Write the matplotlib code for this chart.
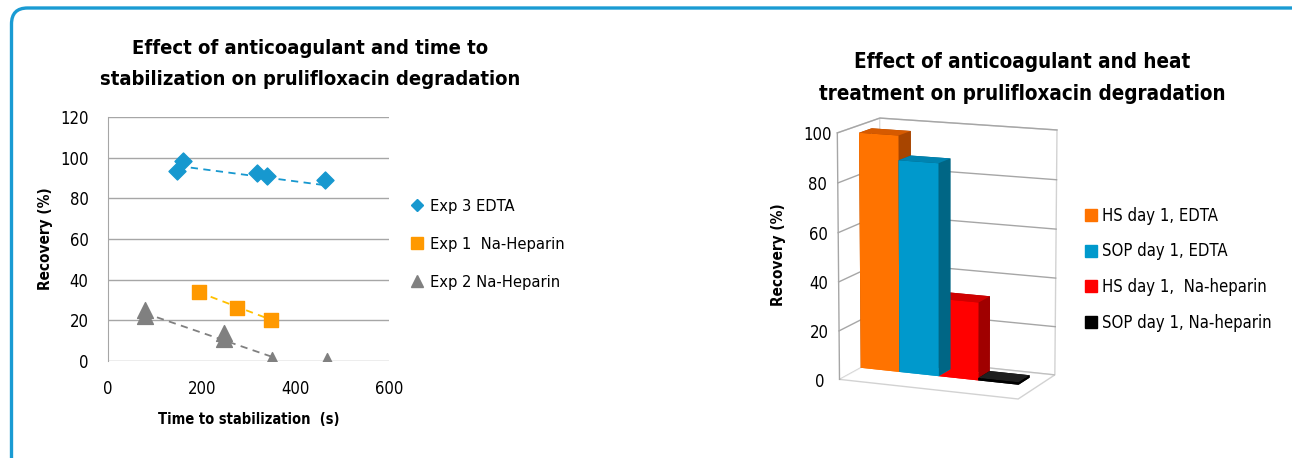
import matplotlib
matplotlib.use("Agg")
import matplotlib.pyplot as plt
from matplotlib.patches import FancyBboxPatch
from matplotlib.lines import Line2D
from matplotlib.patches import Patch

plt.rcParams['font.family'] = ['DejaVu Sans']
plt.rcParams['font.stretch'] = 'condensed'

# scatter data: time to stabilization (s) vs recovery (%)
exp3_x = [148, 161, 318, 339, 464]
exp3_y = [93.3, 98.2, 92.5, 91.2, 89.2]
exp1_x = [194, 276, 348]
exp1_y = [34.0, 25.9, 20.1]
exp2_x = [79, 79, 248, 248, 351, 468]
exp2_y = [25.0, 22.0, 13.6, 10.6, 0.6, 0.0]

# trend line end points
trend3_x = [150, 465]
trend3_y = [95.9, 86.4]
trend1_x = [194, 348]
trend1_y = [33.8, 20.3]
trend2_x = [79, 351]
trend2_y = [23.5, 2.0]

# bar data
bar_labels = ["HS day 1, EDTA", "SOP day 1, EDTA", "HS day 1,  Na-heparin", "SOP day 1, Na-heparin"]
bar_values = [97, 87, 32, 1]
bar_front = ["#FF7300", "#0099CC", "#FF0000", "#000000"]
bar_top = ["#D65A00", "#0083B0", "#D00000", "#202020"]
bar_side = ["#A84500", "#006685", "#A00000", "#000000"]
z_ticks = [0, 20, 40, 60, 80, 100]

blue = "#1798CF"
orange = "#FF9900"
gray = "#808080"
grid_c = "#A6A6A6"

fig = plt.figure(figsize=(12.92, 4.58), dpi=100)

# rounded frame around everything
frame = FancyBboxPatch((0.115, -0.5), 13.3, 5.0, boxstyle="round,pad=0,rounding_size=0.16",
                       transform=fig.dpi_scale_trans, facecolor="none",
                       edgecolor="#1A9BD3", linewidth=2.4, clip_on=False)
fig.patches.append(frame)

# ---- left: scatter ----
ax = fig.add_axes([108 / 1292, 1 - 361 / 458, 281 / 1292, 244 / 458])
ax.plot(trend3_x, trend3_y, "--", color=blue, lw=1.3, dashes=(4, 3))
ax.plot(trend1_x, trend1_y, "--", color="#FFC000", lw=1.3, dashes=(4, 3))
ax.plot(trend2_x, trend2_y, "--", color=gray, lw=1.3, dashes=(4, 3))
ax.scatter(exp3_x, exp3_y, marker="D", s=75, color=blue, zorder=3)
ax.scatter(exp1_x, exp1_y, marker="s", s=110, color=orange, zorder=3)
ax.scatter(exp2_x, exp2_y, marker="^", s=130, color=gray, zorder=3)
ax.set_xlim(0, 600)
ax.set_ylim(0, 120)
ax.set_xticks([0, 200, 400, 600])
ax.set_yticks(range(0, 121, 20))
ax.grid(axis="y", color=grid_c, lw=1)
ax.set_axisbelow(True)
for s in ["top", "right", "bottom"]:
    ax.spines[s].set_visible(False)
ax.spines["left"].set_color(grid_c)
ax.tick_params(length=0, labelsize=12)
ax.tick_params(axis="x", pad=14)
ax.tick_params(axis="y", pad=14)
ax.set_xlabel("Time to stabilization  (s)", fontsize=10.5, fontweight="bold", labelpad=10)
ax.set_ylabel("Recovery (%)", fontsize=11, fontweight="bold", labelpad=5)
fig.text(310 / 1292, 1 - 64 / 458,
         "Effect of anticoagulant and time to\nstabilization on prulifloxacin degradation",
         ha="center", va="center", fontsize=14.5, fontweight="bold", linespacing=1.75)

handles = [Line2D([], [], ls="", marker="D", ms=6, color=blue),
           Line2D([], [], ls="", marker="s", ms=9, color=orange),
           Line2D([], [], ls="", marker="^", ms=9, color=gray)]
fig.legend(handles, ["Exp 3 EDTA", "Exp 1  Na-Heparin", "Exp 2 Na-Heparin"],
           loc="upper left", bbox_to_anchor=(396 / 1292, 1 - 184 / 458), frameon=False,
           fontsize=11.8, handlelength=0.8, handletextpad=0.4, labelspacing=1.4)

# ---- right: 3D bars ----
ax3 = fig.add_axes([0.605, 0.0226, 0.25, 0.82], projection="3d")
ax3.set_proj_type("persp", focal_length=1.5)
ax3.view_init(elev=12, azim=-67)
ax3.set_box_aspect((200, 105, 260), zoom=1.0)
ax3.set_xlim(0, 4.45)
ax3.set_ylim(0, 1)
ax3.set_zlim(0, 100)
for i, v in enumerate(bar_values):
    cols = [bar_front[i], bar_top[i], bar_front[i], bar_side[i], bar_side[i], bar_side[i]]
    ax3.bar3d(i, 0.5, 0, 1, 0.3, v, color=cols, shade=False)

ax3.grid(False)
for a in (ax3.xaxis, ax3.yaxis, ax3.zaxis):
    a.pane.set_facecolor((1, 1, 1, 0))
    a.pane.set_edgecolor(grid_c)
    a.line.set_color((1, 1, 1, 0))
# wall gridlines and the front edge of the side wall
x0, x1 = ax3.get_xlim()
for z in z_ticks[1:]:
    ax3.plot([x0, x0, x1], [0, 1, 1], [z, z, z], color=grid_c, lw=1)
ax3.plot([x0, x0], [0, 0], [0, 100], color=grid_c, lw=1)
ax3.set_xticks([])
ax3.set_yticks([])
ax3.set_zticks(z_ticks)
ax3.set_zticklabels([str(z) for z in z_ticks], va="center_baseline")
ax3.zaxis.set_ticks_position("lower")
ax3.tick_params(axis="z", labelsize=12, pad=3)
ax3.zaxis._axinfo["tick"]["inward_factor"] = 0
ax3.zaxis._axinfo["tick"]["outward_factor"] = 0
fig.text(778 / 1292, 1 - 255 / 458, "Recovery (%)", rotation=90, ha="center", va="center",
         fontsize=11, fontweight="bold")
fig.text(1022 / 1292, 1 - 78.5 / 458,
         "Effect of anticoagulant and heat\ntreatment on prulifloxacin degradation",
         ha="center", va="center", fontsize=14.8, fontweight="bold", linespacing=1.75)

leg_handles = [Patch(color=c) for c in bar_front]
fig.legend(leg_handles, bar_labels, loc="upper left", bbox_to_anchor=(1070 / 1292, 1 - 192 / 458),
           frameon=False, fontsize=12, handlelength=0.7, handleheight=0.7,
           handletextpad=0.35, labelspacing=1.05)

fig.savefig("out.png", dpi=100)
